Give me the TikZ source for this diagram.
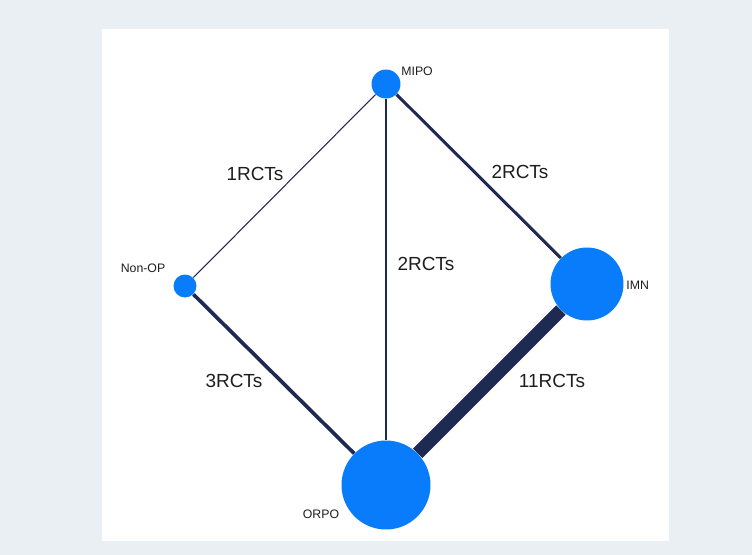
\documentclass[tikz,border=0pt]{standalone}
\usepackage{fontspec}
\setmainfont{Liberation Sans}
\usetikzlibrary{
  positioning  % 节点相对定位
}
\definecolor{bgcol}{RGB}{233,239,242}
\definecolor{trtblue}{RGB}{8,124,250}
\definecolor{linknavy}{RGB}{30,42,82}
\definecolor{txtgray}{RGB}{30,30,30}

\begin{document}
\begin{tikzpicture}[x=0.02cm, y=-0.02cm,
  trt/.style={circle, fill=trtblue, inner sep=0pt},
  link/.style={draw=linknavy},
  rct/.style={font=\fontsize{10.8}{13}\selectfont, text=txtgray, inner sep=0pt},
  trtlabel/.style={font=\fontsize{7}{8}\selectfont, text=txtgray, inner sep=0pt}]

  % =========== 背景与面板 ===========
  \fill[bgcol] (0,0) rectangle (752,555);
  \fill[white] (102,29) rectangle (669,541);

  % =========== 四个处理节点 ===========
  % 节点大小与样本量成比例
  \node[trt, minimum size=0.58cm] (MIPO)  at (386,84)  {};
  \node[trt, minimum size=0.46cm] (NonOP) at (185,286) {};
  \node[trt, minimum size=1.46cm] (IMN)   at (587,284) {};
  \node[trt, minimum size=1.78cm] (ORPO)  at (386,485) {};

  % 节点名称
  \node[trtlabel, anchor=west] (lMIPO)  at (401,71)  {MIPO};
  \node[trtlabel]              (lNonOP) at (143,268) {Non-OP};
  \node[trtlabel, anchor=west] (lIMN)   at (626,285) {IMN};
  \node[trtlabel]              (lORPO)  at (321,514) {ORPO};

  % =========== 比较连线 ===========
  % 线宽与研究数成比例
  \draw[link, line width=0.6pt] (NonOP) -- (MIPO);
  \draw[link, line width=1.5pt] (MIPO) -- (ORPO);
  \draw[link, line width=1.7pt] (MIPO) -- (IMN);
  \draw[link, line width=2.1pt] (NonOP) -- (ORPO);
  \draw[link, line width=7.5pt] (IMN) -- (ORPO);

  % 连线上的研究数
  \node[rct] (r1) at (255,174) {1RCTs};
  \node[rct] (r2) at (426,264) {2RCTs};
  \node[rct] (r3) at (520,172) {2RCTs};
  \node[rct] (r4) at (234,381) {3RCTs};
  \node[rct] (r5) at (552,381) {11RCTs};

\end{tikzpicture}
\end{document}
